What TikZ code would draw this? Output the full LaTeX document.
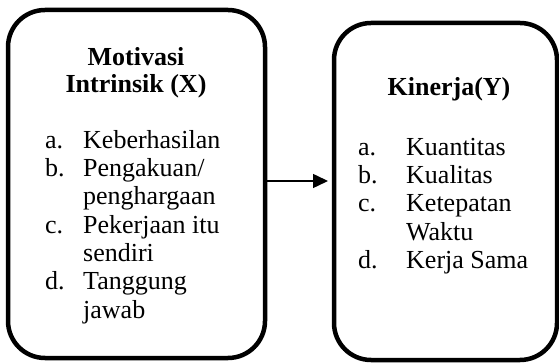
\documentclass[tikz,border=0pt]{standalone}
\usepackage{fontspec}
\setmainfont{Liberation Serif}
\usetikzlibrary{arrows.meta,positioning}

\tikzset{
  box/.style={draw, rectangle, rounded corners=37pt, line width=4.5pt, outer sep=0pt},
  items/.style={inner sep=0pt, anchor=north west, font=\fontsize{26}{28.3}\selectfont},
  heading/.style={inner sep=0pt, anchor=north, font=\fontsize{26}{27}\selectfont\bfseries}
}

\begin{document}
\begin{tikzpicture}[x=1pt,y=-1pt]
  \useasboundingbox (0,0) rectangle (559,363);

  % the two boxes
  \node[box, minimum width=257pt, minimum height=348pt] (X) at (136.5,184)   {};
  \node[box, minimum width=223pt, minimum height=337pt] (Y) at (445.5,191.5) {};

  % left box text
  \node[heading] (Xtitle) at (136,46) {\begin{tabular}{@{}c@{}}Motivasi\\ Intrinsik (X)\end{tabular}};
  \node[items]   (Xlist)  at (45,128.2) {%
    \begin{tabular}{@{}p{38pt}@{}l@{}}
      a. & Keberhasilan\\
      b. & Pengakuan/\\
         & penghargaan\\
      c. & Pekerjaan itu\\
         & sendiri\\
      d. & Tanggung\\
         & jawab
    \end{tabular}};

  % right box text
  \node[heading] (Ytitle) at (449,76.1) {\begin{tabular}{@{}c@{}}Kinerja(Y)\end{tabular}};
  \node[items]   (Ylist)  at (358,135.2) {%
    \begin{tabular}{@{}p{48pt}@{}l@{}}
      a. & Kuantitas\\
      b. & Kualitas\\
      c. & Ketepatan\\
         & Waktu\\
      d. & Kerja Sama
    \end{tabular}};

  \draw[-{Triangle[length=15pt,width=14pt]}, line width=1.5pt, shorten >=6pt]
    ([yshift=3pt]X.east) -- ([yshift=10.5pt]Y.west);
\end{tikzpicture}
\end{document}
